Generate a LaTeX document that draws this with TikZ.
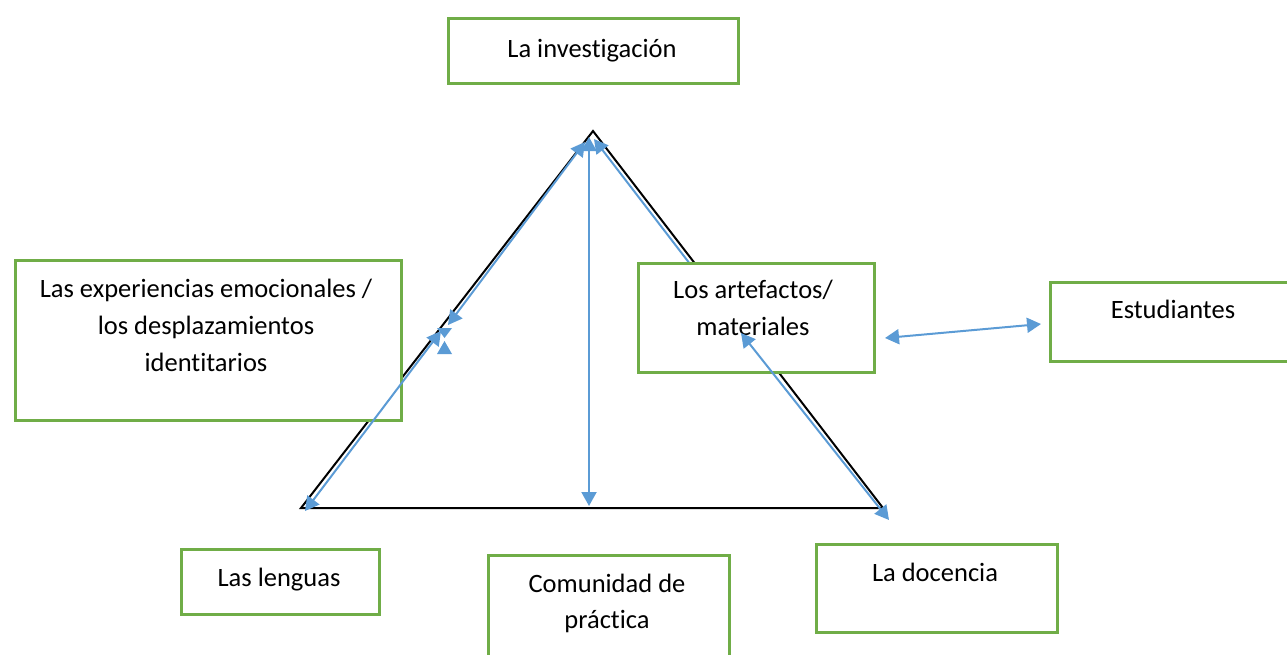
\documentclass[tikz,border=0pt]{standalone}
\usepackage{fontspec}
\setmainfont{Carlito}[Ligatures=NoCommon]
\usetikzlibrary{arrows.meta}
\definecolor{boxgreen}{HTML}{70AD47}
\definecolor{arrblue}{HTML}{5B9BD5}
\tikzset{
  box/.style={draw=boxgreen, line width=2.6pt, fill=white, rectangle, inner sep=0pt, anchor=north west},
  txt/.style={inner sep=0pt, anchor=base, font=\fontsize{26.5}{37.5}\selectfont},
  arr/.style={draw=arrblue, line width=2pt, {Triangle[length=14pt,width=15pt]}-{Triangle[length=14pt,width=15pt]}},
  arrone/.style={draw=arrblue, line width=2pt, {Triangle[length=14pt,width=15pt]}-},
  edge/.style={draw=black, line width=2pt, line join=miter}
}
\begin{document}
\begin{tikzpicture}[x=1pt,y=-1pt]
\useasboundingbox (0,0) rectangle (1287,654);
\clip (0,0) rectangle (1287,654);
% triangle
\coordinate (apex) at (593,131);
\coordinate (bl) at (301,508);
\coordinate (br) at (883,508);
\draw[edge] (apex) -- (bl) -- (br) -- cycle;
% blue line behind artefactos box
\coordinate (r1) at (594,139);
\coordinate (r2) at (700,277);
\draw[arrone] (r1) -- (r2);
% boxes
\node[box, minimum width=290pt, minimum height=65pt] (binv) at (447,17) {};
\node[box, minimum width=386pt, minimum height=160pt] (bexp) at (14,259) {};
\node[box, minimum width=236pt, minimum height=109pt] (bart) at (637,262) {};
\node[box, minimum width=250pt, minimum height=79pt] (best) at (1049,281) {};
\node[box, minimum width=198pt, minimum height=65pt] (blen) at (180,548) {};
\node[box, minimum width=241pt, minimum height=120pt] (bcom) at (487,554) {};
\node[box, minimum width=241pt, minimum height=88pt] (bdoc) at (815,543) {};
% texts
\node[txt] (tinv) at (592,57) {La investigación};
\node[txt] (texp1) at (206,297) {Las experiencias emocionales /};
\node[txt] (texp2) at (206,334) {los desplazamientos};
\node[txt] (texp3) at (206,371) {identitarios};
\node[txt] (tart1) at (753,298) {Los artefactos/};
\node[txt] (tart2) at (753,335) {materiales};
\node[txt] (test) at (1173,318) {Estudiantes};
\node[txt] (tlen) at (279,586) {Las lenguas};
\node[txt] (tcom1) at (607,592) {Comunidad de};
\node[txt] (tcom2) at (607,628) {práctica};
\node[txt] (tdoc) at (935,581) {La docencia};
% blue arrows
\coordinate (l1) at (448,325);
\coordinate (l2) at (585,142);
\draw[arr] (l1) -- (l2);
\coordinate (l3) at (305,511);
\coordinate (l4) at (441,331);
\draw[arr] (l3) -- (l4);
\coordinate (v1) at (589,137);
\coordinate (v2) at (589,506);
\draw[arr] (v1) -- (v2);
\coordinate (d1) at (741,333);
\coordinate (d2) at (889,520);
\draw[arr] (d1) -- (d2);
\coordinate (e1) at (885,338);
\coordinate (e2) at (1041,324);
\draw[arr] (e1) -- (e2);
% small hourglass mark
\fill[arrblue] (437,328) -- (452,328) -- (444.5,338) -- cycle;
\fill[arrblue] (437,354) -- (452,354) -- (444.5,341) -- cycle;
\end{tikzpicture}
\end{document}
